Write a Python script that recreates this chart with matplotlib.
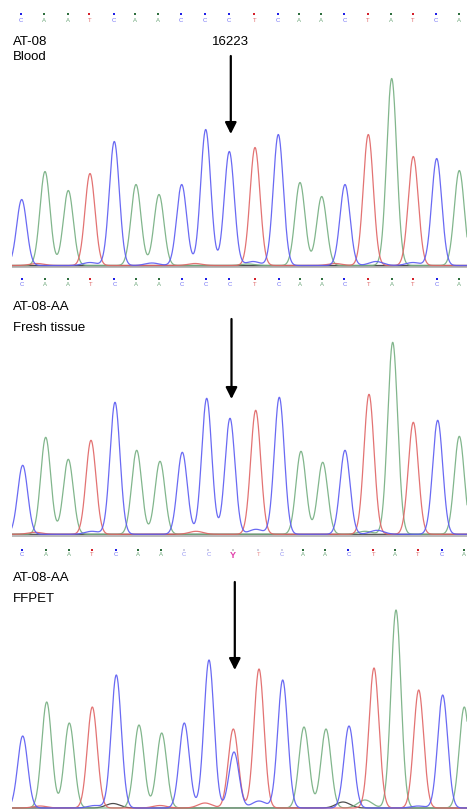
import numpy as np
import matplotlib
matplotlib.use("Agg")
import matplotlib.pyplot as plt
from matplotlib.transforms import blended_transform_factory

# ---------------- data ----------------
ref_bases = list("CAATCAACCCTCAACTATCA")          # base calls, panels 1-2
ffpet_calls = list("CAATCAACCYTCAACTATCA")        # base calls, panel 3
ffpet_faded = [0, 0, 0, 0, 0, 0, 0, 1, 1, 0, 1, 1, 0, 0, 0, 0, 0, 0, 0, 0]
ffpet_peak_channels = list("CAATCAACCTTCAACTATCA")

# peak scan positions
pos_blood = [21.7, 45, 68.3, 90, 114.3, 136, 159, 181.7, 205.7, 229.3,
             255, 278.3, 300, 321.7, 345, 368.3, 391.7, 413.3, 436.7, 459.3]
pos_fresh = [22.7, 45.7, 68.3, 91, 115, 136.7, 160, 182.3, 206.7, 230,
             255.7, 279.3, 301, 322.7, 345, 369, 392.7, 413.3, 437.7, 459.3]
pos_ffpet = [22.7, 46.7, 69.3, 92.3, 116.3, 139, 161.7, 184.3, 209, 233.3,
             259, 282.7, 304, 326, 349, 374, 396, 418.7, 442.7, 464.3]

# peak heights (signal)
h_blood = [66, 94, 75, 92, 124, 81, 71, 81, 136, 114,
           118, 131, 83, 69, 81, 131, 187, 109, 107, 95]
h_fresh = [69, 97, 75, 94, 132, 84, 73, 82, 136, 116,
           124, 137, 83, 72, 84, 138, 192, 112, 114, 98]
h_ffpet = [72, 106, 85, 101, 133, 83, 75, 85, 148, 79,
           139, 128, 81, 79, 82, 140, 198, 118, 113, 101]

# minor / secondary peaks: (channel, scan position, height)
minor_blood = [("C", 90, 3), ("C", 152, 2.5), ("C", 253, 4), ("C", 376, 4),
               ("C", 413, 3), ("T", 37, 2), ("T", 195, 2), ("T", 335, 2),
               ("A", 248, 1.5)]
minor_fresh = [("C", 92, 3), ("C", 256, 5), ("C", 377, 4), ("T", 196, 3),
               ("T", 370, 2), ("A", 365, 3), ("T", 35, 2)]
minor_ffpet = [("C", 234, 56), ("C", 259, 7), ("G", 113, 4.5), ("G", 343, 6),
               ("A", 365, 8), ("T", 205, 5), ("T", 160, 2.5), ("C", 95, 2.5),
               ("C", 418, 2), ("T", 40, 2)]

samples = ["AT-08", "AT-08-AA", "AT-08-AA"]
tissues = ["Blood", "Fresh tissue", "FFPET"]
position_label = "16223"
site_index = 9

# ---------------- style ----------------
W, H = 467, 810
colors = {"C": "#5a5af2", "A": "#74ae80", "T": "#e06464", "G": "#3a3a3a"}
letter_colors = {"C": "#6f6ff5", "A": "#6fa87c", "T": "#e06a6a"}
square_colors = {"C": "#1f1fe6", "A": "#2e6e3e", "T": "#d41f2a"}
faded = {"C": "#9090f2", "A": "#9cc8a4", "T": "#e88e8e"}
SIG = 5.0
SIG_MINOR = 7.0

fig = plt.figure(figsize=(W / 100, H / 100), dpi=100)
plt.rcParams["font.family"] = ["Liberation Sans", "DejaVu Sans"]

def fx(px):
    return px / W

def fy(py):
    return 1 - py / H

panels = [
    dict(pos=pos_blood, h=h_blood, ch=ref_bases, calls=ref_bases, fade=[0] * 20,
         minor=minor_blood, base_px=265.5, gray=True, sq=14, let=20,
         t1=42, t2=57, arrow=(56, 134)),
    dict(pos=pos_fresh, h=h_fresh, ch=ref_bases, calls=ref_bases, fade=[0] * 20,
         minor=minor_fresh, base_px=534.3, gray=True, sq=279, let=284.5,
         t1=307, t2=328, arrow=(319, 399)),
    dict(pos=pos_ffpet, h=h_ffpet, ch=ffpet_peak_channels, calls=ffpet_calls,
         fade=ffpet_faded, minor=minor_ffpet, base_px=808.0, gray=False,
         sq=549.5, let=554.5, t1=578, t2=599, arrow=(582, 670)),
]

x = np.linspace(0, 480, 3000)
for k, p in enumerate(panels):
    bottom_px = min(p["base_px"] + 4, H)
    lower = -(bottom_px - p["base_px"])
    top_px = p["base_px"] - 262
    ax = fig.add_axes([fx(12), fy(bottom_px), fx(455), (bottom_px - top_px) / H])
    ax.set_xlim(12, 467)
    ax.set_ylim(lower, p["base_px"] - top_px)
    ax.axis("off")

    traces = {c: np.zeros_like(x) for c in "GATC"}
    for c, mu, hh in zip(p["ch"], p["pos"], p["h"]):
        traces[c] += hh * np.exp(-0.5 * ((x - mu) / SIG) ** 2)
    for c, mu, hh in p["minor"]:
        s = SIG if hh > 20 else SIG_MINOR
        traces[c] += hh * np.exp(-0.5 * ((x - mu) / s) ** 2)

    if p["gray"]:
        ax.axhline(-1.6, color="#b4b4b4", lw=1.3, zorder=0)
    for c in "GATC":
        ax.plot(x, traces[c], color=colors[c], lw=0.9, alpha=0.9, zorder=2)

    # base-call row
    tr = blended_transform_factory(ax.transData, fig.transFigure)
    for call, mu, fd in zip(p["calls"], p["pos"], p["fade"]):
        if call == "Y":
            ax.plot([mu - 0.6], [fy(p["sq"])], marker="s", ms=1.9, color="#c8c8c8",
                    transform=tr, clip_on=False, mew=0)
            ax.text(mu - 0.6, fy(p["let"] + 0.5), "Y", transform=tr, ha="center",
                    va="center", fontsize=6.5, color="#e03aa8", fontweight="bold")
            continue
        col = faded[call] if fd else letter_colors[call]
        sqc = "#cfcfe0" if fd else square_colors[call]
        ax.plot([mu - 0.6], [fy(p["sq"])], marker="s", ms=2.0, color=sqc,
                transform=tr, clip_on=False, mew=0)
        ax.text(mu - 0.6, fy(p["let"]), call, transform=tr, ha="center", va="center",
                fontsize=4.3, color=col)

    # labels
    fig.text(fx(13), fy(p["t1"]), samples[k], fontsize=9.5, va="center", ha="left")
    fig.text(fx(13), fy(p["t2"]), tissues[k], fontsize=9.5, va="center", ha="left")

    # arrow at site
    xa = p["pos"][site_index] + 1.5
    y0 = p["base_px"] - p["arrow"][0]
    y1 = p["base_px"] - p["arrow"][1]
    ax.annotate("", xy=(xa, y1), xytext=(xa, y0),
                arrowprops=dict(arrowstyle="-|>", lw=1.6, color="black",
                                mutation_scale=17, shrinkA=0, shrinkB=0),
                annotation_clip=False)
    if k == 0:
        fig.text(fx(xa), fy(42), position_label, fontsize=9.5, ha="center", va="center")

fig.savefig("out.png", dpi=100, facecolor="white")
